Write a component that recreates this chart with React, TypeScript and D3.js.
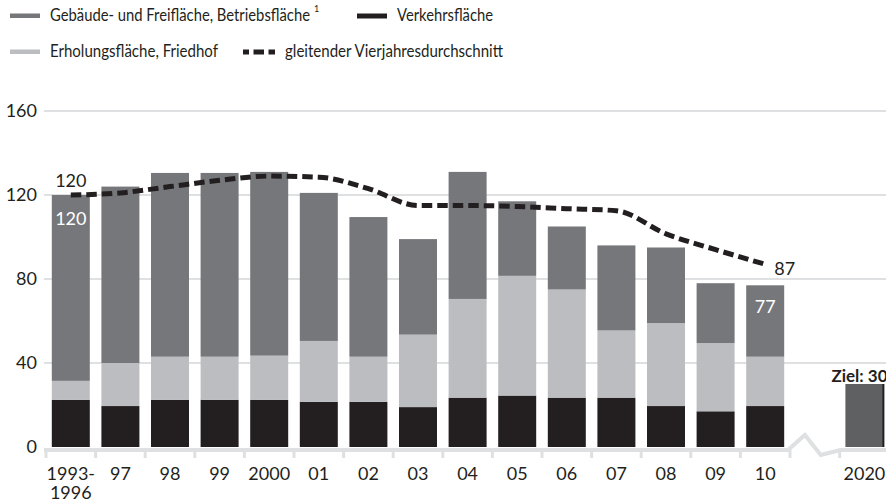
import React from "react";
import * as d3 from "d3";

const categories = ["1993-1996", "97", "98", "99", "2000", "01", "02", "03", "04", "05", "06", "07", "08", "09", "10"];
const tickLabels = ["1993-\n1996", "97", "98", "99", "2000", "01", "02", "03", "04", "05", "06", "07", "08", "09", "10"];
const gebaeude = [88.5, 84, 87.5, 87.5, 87.5, 70.5, 66.5, 45.5, 60.5, 35.5, 30, 40.5, 36, 28.5, 34];
const erholung = [9, 20.5, 20.5, 20.5, 21, 29, 21.5, 34.5, 47, 57, 51.5, 32, 39.5, 32.5, 23.5];
const verkehr = [22.5, 19.5, 22.5, 22.5, 22.5, 21.5, 21.5, 19, 23.5, 24.5, 23.5, 23.5, 19.5, 17, 19.5];
const durchschnitt = [120, 121, 124, 127, 129, 128.5, 123, 115, 115, 114.5, 113.5, 112.5, 101.5, 94, 87];
const zielCategory = "2020";
const zielValue = 30;
const yTicks = [0, 40, 80, 120, 160];

const legendItems = [
  { label: "Gebäude- und Freifläche, Betriebsfläche", sup: "1", kind: "gebaeude" },
  { label: "Verkehrsfläche", sup: "", kind: "verkehr" },
  { label: "Erholungsfläche, Friedhof", sup: "", kind: "erholung" },
  { label: "gleitender Vierjahresdurchschnitt", sup: "", kind: "line" },
];

const COLORS: Record<string, string> = {
  gebaeude: "#76777b",
  erholung: "#bcbdc0",
  verkehr: "#231f20",
  ziel: "#5f6062",
};
const TEXT = "#231f20";
const GRID = "#dfe0e1";
const FONT = "Lato, 'Noto Sans', sans-serif";

export default function App() {
  const W = 886;
  const H = 503;
  const slots = [...categories, "gap", zielCategory];
  const x = d3
    .scaleBand<string>()
    .domain(slots)
    .range([46, 46 + 17 * 49.6])
    .paddingInner(0.234)
    .paddingOuter(0.117);
  const y = d3.scaleLinear().domain([0, 160]).range([447, 111]);
  const bw = x.bandwidth();
  const step = x.step();
  const boundary = (i: number) => (x(slots[i]) as number) - (step - bw) / 2;
  const cx = (c: string) => (x(c) as number) + bw / 2;

  const rows = categories.map((c, i) => ({
    cat: c,
    verkehr: verkehr[i],
    erholung: erholung[i],
    gebaeude: gebaeude[i],
  }));
  const stack = d3.stack<any>().keys(["verkehr", "erholung", "gebaeude"]);
  const series = stack(rows);

  const line = d3
    .line<number>()
    .x((_, i) => cx(categories[i]))
    .y((d) => y(d))
    .curve(d3.curveMonotoneX);

  const axisY = y(0) + 3;
  const gx0 = boundary(15);
  const gx1 = boundary(16);
  const zig = [
    [gx0 - 2, axisY],
    [gx0 + (gx1 - gx0) * 0.3, axisY - 15],
    [gx0 + (gx1 - gx0) * 0.62, axisY + 5],
    [gx1 + 1, axisY],
  ] as [number, number][];
  const zigPath = d3.line()(zig) as string;

  const last = categories.length - 1;

  return (
    <svg
      width={W}
      height={H}
      style={{ position: "absolute", left: 0, top: 0, display: "block", background: "#fff" }}
      fontFamily={FONT}
    >
      {/* legend */}
      <g>
        <rect x={10} y={13.5} width={30} height={4.5} fill={COLORS.gebaeude} />
        <text x={50} y={21} fontSize={17} fill={TEXT} textLength={260} lengthAdjust="spacingAndGlyphs">
          {legendItems[0].label}
        </text>
        <text x={314} y={12} fontSize={9} fill={TEXT}>
          {legendItems[0].sup}
        </text>
        <rect x={357} y={13.5} width={30} height={5} fill={COLORS.verkehr} />
        <text x={397} y={21} fontSize={17} fill={TEXT} textLength={96} lengthAdjust="spacingAndGlyphs">
          {legendItems[1].label}
        </text>
        <rect x={10} y={49.5} width={30} height={4.5} fill={COLORS.erholung} />
        <text x={50} y={57} fontSize={17} fill={TEXT} textLength={168} lengthAdjust="spacingAndGlyphs">
          {legendItems[2].label}
        </text>
        <path d="M243,52 L275,52" stroke={COLORS.verkehr} strokeWidth={5} strokeDasharray="6 4.5 10.5 4.5 10.5" />
        <text x={285} y={57} fontSize={17} fill={TEXT} textLength={218} lengthAdjust="spacingAndGlyphs">
          {legendItems[3].label}
        </text>
      </g>

      {/* grid */}
      {yTicks
        .filter((t) => t > 0)
        .map((t) => (
          <line key={t} x1={44} x2={W} y1={y(t)} y2={y(t)} stroke={GRID} strokeWidth={2} />
        ))}
      {yTicks.map((t) => (
        <text key={"yl" + t} x={37} y={y(t)} dy="0.35em" textAnchor="end" fontSize={18} fill={TEXT}>
          {t}
        </text>
      ))}

      {/* bars */}
      {series.map((s) => (
        <g key={s.key} fill={COLORS[s.key as string]}>
          {s.map((d, i) => (
            <rect
              key={i}
              x={x(categories[i])}
              y={y(d[1])}
              width={bw}
              height={y(d[0]) - y(d[1])}
            />
          ))}
        </g>
      ))}
      <rect
        x={x(zielCategory)}
        y={y(zielValue)}
        width={bw}
        height={y(0) - y(zielValue)}
        fill={COLORS.ziel}
      />
      <rect
        x={(x(zielCategory) as number) + bw - 1}
        y={y(zielValue)}
        width={2}
        height={y(0) - y(zielValue)}
        fill={COLORS.verkehr}
      />

      {/* axis */}
      <line x1={44} x2={gx0 - 1} y1={axisY} y2={axisY} stroke={GRID} strokeWidth={4} />
      <line x1={gx1} x2={W} y1={axisY} y2={axisY} stroke={GRID} strokeWidth={4} />
      <path d={zigPath} fill="none" stroke={GRID} strokeWidth={4} strokeLinejoin="miter" />
      {d3.range(0, 17).map((i) => (
        <line
          key={"t" + i}
          x1={boundary(i)}
          x2={boundary(i)}
          y1={axisY}
          y2={axisY + 8}
          stroke={GRID}
          strokeWidth={3}
        />
      ))}
      {[...tickLabels, zielCategory].map((lab, i) => {
        const c = i < categories.length ? categories[i] : zielCategory;
        return (
          <text key={"xl" + i} x={cx(c)} y={480} textAnchor="middle" fontSize={18} fill={TEXT}>
            {lab.split("\n").map((l, j) => (
              <tspan key={j} x={cx(c)} dy={j === 0 ? 0 : 19}>
                {l}
              </tspan>
            ))}
          </text>
        );
      })}

      {/* moving average */}
      <path
        d={line(durchschnitt) as string}
        fill="none"
        stroke={COLORS.verkehr}
        strokeWidth={5}
        strokeDasharray="10.5 5"
      />

      {/* labels */}
      <text x={cx(categories[0])} y={y(durchschnitt[0]) - 8} textAnchor="middle" fontSize={18} fill={TEXT}>
        {durchschnitt[0]}
      </text>
      <text
        x={cx(categories[0])}
        y={y(gebaeude[0] + erholung[0] + verkehr[0]) + 30}
        textAnchor="middle"
        fontSize={18}
        fill="#fff"
      >
        {gebaeude[0] + erholung[0] + verkehr[0]}
      </text>
      <text x={cx(categories[last]) + 9} y={y(durchschnitt[last]) + 11} fontSize={18} fill={TEXT}>
        {durchschnitt[last]}
      </text>
      <text
        x={cx(categories[last])}
        y={y(gebaeude[last] + erholung[last] + verkehr[last]) + 28}
        textAnchor="middle"
        fontSize={18}
        fill="#fff"
      >
        {gebaeude[last] + erholung[last] + verkehr[last]}
      </text>
      <text x={(x(zielCategory) as number) - 14} y={y(zielValue) - 2} fontSize={17} fontWeight="bold" fill={TEXT}>
        {"Ziel: " + zielValue}
      </text>
    </svg>
  );
}
